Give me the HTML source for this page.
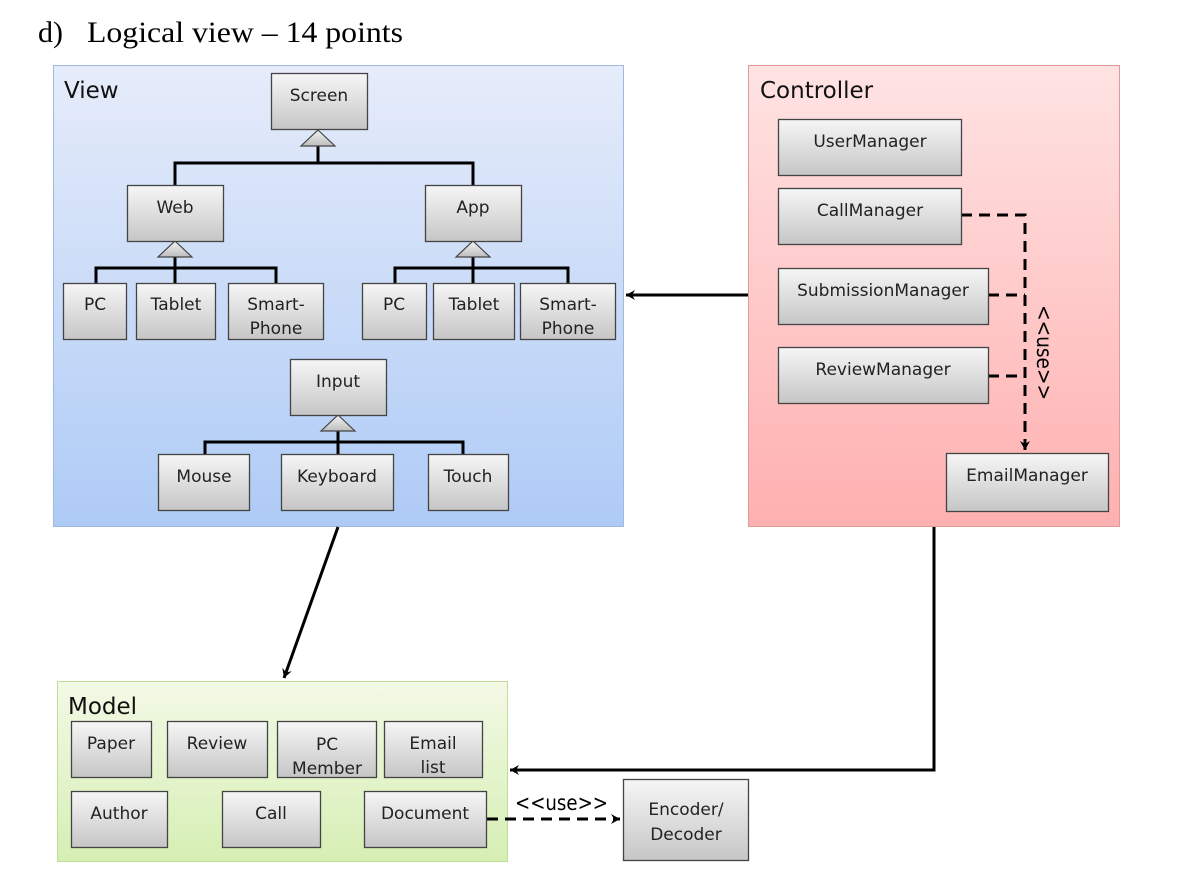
<!DOCTYPE html>
<html><head><meta charset="utf-8"><style>
html,body{margin:0;padding:0;background:#fff;}
svg{display:block;}
</style></head><body>
<svg width="1182" height="876" viewBox="0 0 1182 876" xmlns="http://www.w3.org/2000/svg" font-family="'DejaVu Sans','Liberation Sans',sans-serif">
<defs>
<linearGradient id="gv" x1="0" y1="0" x2="0" y2="1"><stop offset="0" stop-color="#e6ecfa"/><stop offset="1" stop-color="#aecbf6"/></linearGradient>
<linearGradient id="gc" x1="0" y1="0" x2="0" y2="1"><stop offset="0" stop-color="#ffe3e3"/><stop offset="1" stop-color="#ffb0b0"/></linearGradient>
<linearGradient id="gm" x1="0" y1="0" x2="0" y2="1"><stop offset="0" stop-color="#f3f9e6"/><stop offset="1" stop-color="#d6efb4"/></linearGradient>
<linearGradient id="gb" x1="0" y1="0" x2="0" y2="1"><stop offset="0" stop-color="#f6f6f6"/><stop offset="1" stop-color="#c6c6c6"/></linearGradient>
<linearGradient id="gt" x1="0" y1="0" x2="0" y2="1"><stop offset="0" stop-color="#f4f4f4"/><stop offset="1" stop-color="#bdbdbd"/></linearGradient>
<marker id="ah" markerWidth="12" markerHeight="12" refX="10" refY="6" orient="auto" markerUnits="userSpaceOnUse"><path d="M1,1 L10,6 L1,11 L4,6 Z" fill="#000"/></marker>
</defs>

<text x="38" y="42" font-family="'Liberation Serif',serif" font-size="30" fill="#000">d)</text>
<text x="87" y="42" font-family="'Liberation Serif',serif" font-size="30" fill="#000" textLength="316" lengthAdjust="spacingAndGlyphs">Logical view – 14 points</text>

<rect x="53.5" y="65.5" width="570" height="461" fill="url(#gv)" stroke="#9fb9e0"/>
<rect x="748.5" y="65.5" width="371" height="461" fill="url(#gc)" stroke="#e09a9a"/>
<rect x="57.5" y="681.5" width="450" height="180" fill="url(#gm)" stroke="#bfdc98"/>
<text x="64" y="98" font-size="23" fill="#111">View</text>
<text x="760" y="98" font-size="23" fill="#111">Controller</text>
<text x="68" y="714" font-size="23" fill="#111">Model</text>

<g stroke="#000" stroke-width="3" fill="none">
<path d="M318,145 V163 M175,185 V163 H473 V185"/>
<path d="M175,256 V268 M96,283 V268 H276 V283 M175,268 V283"/>
<path d="M473,256 V268 M395,283 V268 H568 V283 M473,268 V283"/>
<path d="M338,431 V442 M205,454 V442 H463 V454 M338,442 V454"/>
<path d="M748,295 H626" marker-end="url(#ah)"/>
<path d="M338,527 L284,678" marker-end="url(#ah)"/>
<path d="M934,527 V770 H510" marker-end="url(#ah)"/>
</g>
<g stroke="#000" stroke-width="3" fill="none" stroke-dasharray="11,7">
<path d="M961,215 H1025 V450" marker-end="url(#ah)"/>
<path d="M988,295 H1025 M988,376 H1025"/>
<path d="M487,819 H620" marker-end="url(#ah)"/>
</g>
<g fill="url(#gt)" stroke="#444" stroke-width="1.2">
<path d="M318,130 L335,146 L301,146 Z"/>
<path d="M175,241 L192,257 L158,257 Z"/>
<path d="M473,241 L490,257 L456,257 Z"/>
<path d="M338,415 L355,431 L321,431 Z"/>
</g>
<text x="1037" y="305" font-size="21" fill="#000" transform="rotate(90 1037 305)" textLength="95" lengthAdjust="spacingAndGlyphs">&lt;&lt;use&gt;&gt;</text>
<text x="515" y="810" font-size="21" fill="#000" textLength="93" lengthAdjust="spacingAndGlyphs">&lt;&lt;use&gt;&gt;</text>

<g font-size="17" fill="#222" text-anchor="middle">
<g fill="url(#gb)" stroke="#444" stroke-width="1.3">
<rect x="271.5" y="73.5" width="96" height="56"/>
<rect x="127.5" y="185.5" width="96" height="56"/>
<rect x="425.5" y="185.5" width="96" height="56"/>
<rect x="63.5" y="283.5" width="63" height="56"/>
<rect x="136.5" y="283.5" width="79" height="56"/>
<rect x="228.5" y="283.5" width="95" height="56"/>
<rect x="362.5" y="283.5" width="64" height="56"/>
<rect x="433.5" y="283.5" width="81" height="56"/>
<rect x="520.5" y="283.5" width="95" height="56"/>
<rect x="290.5" y="359.5" width="96" height="56"/>
<rect x="158.5" y="454.5" width="91" height="56"/>
<rect x="281.5" y="454.5" width="112" height="56"/>
<rect x="428.5" y="454.5" width="80" height="56"/>
<rect x="778.5" y="119.5" width="183" height="56"/>
<rect x="778.5" y="188.5" width="183" height="56"/>
<rect x="778.5" y="268.5" width="210" height="56"/>
<rect x="778.5" y="347.5" width="210" height="56"/>
<rect x="946.5" y="453.5" width="162" height="58"/>
<rect x="71.5" y="721.5" width="80" height="56"/>
<rect x="167.5" y="721.5" width="100" height="56"/>
<rect x="277.5" y="721.5" width="99" height="56"/>
<rect x="384.5" y="721.5" width="98" height="56"/>
<rect x="71.5" y="791.5" width="96" height="56"/>
<rect x="222.5" y="791.5" width="98" height="56"/>
<rect x="364.5" y="791.5" width="122" height="56"/>
<rect x="623.5" y="779.5" width="125" height="81"/>
</g>
<g stroke="none" fill="#222">
<text x="319" y="101">Screen</text>
<text x="175" y="213">Web</text>
<text x="473" y="213">App</text>
<text x="95" y="310">PC</text>
<text x="176" y="310">Tablet</text>
<text x="276" y="310">Smart-</text><text x="276" y="334">Phone</text>
<text x="394" y="310">PC</text>
<text x="474" y="310">Tablet</text>
<text x="568" y="310">Smart-</text><text x="568" y="334">Phone</text>
<text x="338" y="387">Input</text>
<text x="204" y="482">Mouse</text>
<text x="337" y="482">Keyboard</text>
<text x="468" y="482">Touch</text>
<text x="870" y="147">UserManager</text>
<text x="870" y="216">CallManager</text>
<text x="883" y="296">SubmissionManager</text>
<text x="883" y="375">ReviewManager</text>
<text x="1027" y="481">EmailManager</text>
<text x="111" y="749">Paper</text>
<text x="217" y="749">Review</text>
<text x="327" y="750">PC</text><text x="327" y="774">Member</text>
<text x="433" y="749">Email</text><text x="433" y="773">list</text>
<text x="119" y="819">Author</text>
<text x="271" y="819">Call</text>
<text x="425" y="819">Document</text>
<text x="686" y="815">Encoder/</text><text x="686" y="840">Decoder</text>
</g>
</g>
</svg>
</body></html>
